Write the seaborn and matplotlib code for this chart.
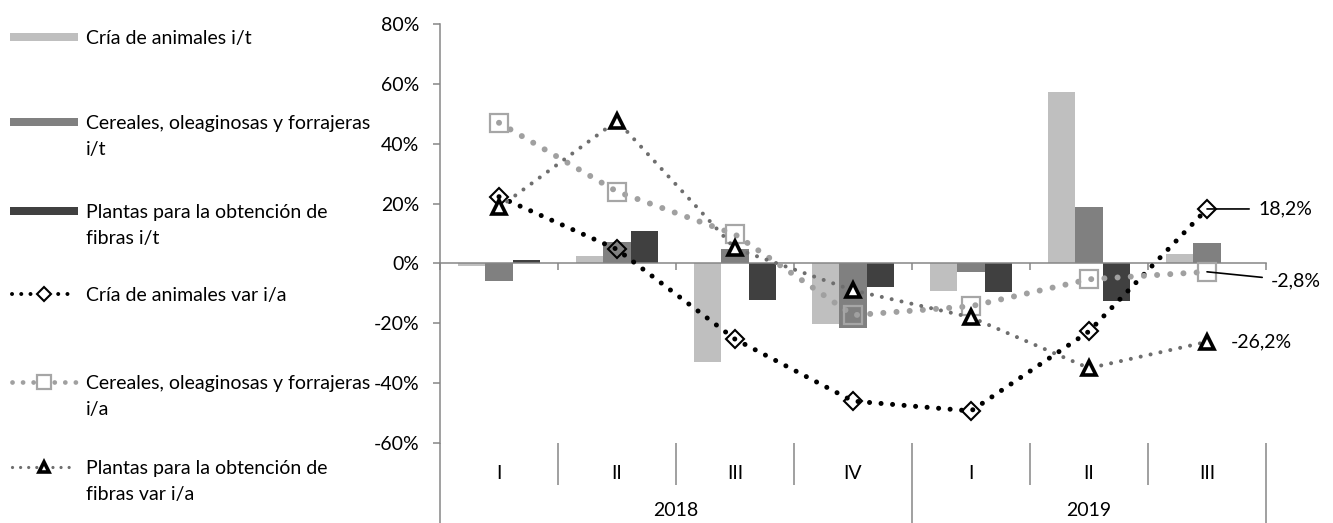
import numpy as np
import pandas as pd
import matplotlib
matplotlib.use("Agg")
import matplotlib.pyplot as plt
from matplotlib.lines import Line2D
from matplotlib.patches import Rectangle
import seaborn as sns

# ---- data ----
periodos = ["2018-I", "2018-II", "2018-III", "2018-IV", "2019-I", "2019-II", "2019-III"]
trimestres = ["I", "II", "III", "IV", "I", "II", "III"]
anios = ["2018", "2019"]

series_it = ["Cría de animales i/t",
             "Cereales, oleaginosas y forrajeras i/t",
             "Plantas para la obtención de fibras i/t"]
cria_it = [-1.0, 2.4, -33.0, -20.3, -9.3, 57.3, 3.0]
cereales_it = [-6.0, 7.0, 4.7, -21.7, -3.0, 19.0, 6.7]
plantas_it = [1.0, 11.0, -12.3, -8.0, -9.5, -12.7, 0.3]

cria_ia = [22.3, 4.7, -25.3, -46.0, -49.3, -22.7, 18.2]
cereales_ia = [47.0, 24.0, 9.7, -17.3, -14.3, -5.3, -2.8]
plantas_ia = [18.7, 47.7, 5.0, -9.0, -18.0, -35.0, -26.2]

yticks = [-60, -40, -20, 0, 20, 40, 60, 80]

bar_colors = ["#bfbfbf", "#808080", "#404040"]
axis_gray = "#868686"

sns.set_theme(style="white")
plt.rcParams["font.family"] = ["Lato", "DejaVu Sans"]
FS = 14

W, H = 1333, 523
fig = plt.figure(figsize=(W / 100, H / 100), dpi=100)
ax = fig.add_axes([440 / W, 1 - 443 / H, (1266 - 440) / W, (443 - 24) / H])

# ---- bars ----
df = pd.DataFrame({
    "periodo": periodos * 3,
    "serie": np.repeat(series_it, len(periodos)),
    "valor": cria_it + cereales_it + plantas_it,
})
sns.barplot(data=df, x="periodo", y="valor", hue="serie", order=periodos,
            hue_order=series_it, palette=bar_colors, saturation=1,
            width=0.69, gap=0, errorbar=None, linewidth=0, legend=False, ax=ax)

# ---- lines ----
xpos = np.arange(len(periodos))
line_specs = [
    dict(y=cria_ia, color="black", lw=3.6, ls=(0, (0.01, 2.3)),
         marker="D", ms=9.5, mfc="none", mec="black", mew=1.5),
    dict(y=cereales_ia, color="#a0a0a0", lw=4.3, ls=(0, (0.01, 2.2)),
         marker="s", ms=13.5, mfc="none", mec="#a6a6a6", mew=1.6),
    dict(y=plantas_ia, color="#6e6e6e", lw=2.9, ls=(0, (0.01, 2.5)),
         marker="^", ms=10, mfc="white", mec="black", mew=2.6),
]
for spec in line_specs:
    sns.lineplot(x=xpos, y=spec["y"], ax=ax, color=spec["color"], linewidth=spec["lw"],
                 linestyle=spec["ls"], dash_capstyle="round", marker=spec["marker"],
                 markersize=spec["ms"], markerfacecolor=spec["mfc"],
                 markeredgecolor=spec["mec"], markeredgewidth=spec["mew"],
                 sort=False, legend=False, zorder=3)

# ---- end labels ----
ax.annotate(f"{cria_ia[-1]:.1f}%".replace(".", ","), xy=(xpos[-1], cria_ia[-1]),
            xytext=(51, 0), textcoords="offset pixels", ha="left", va="center",
            fontsize=FS, color="black",
            arrowprops=dict(arrowstyle="-", color="black", lw=1.2, shrinkA=4, shrinkB=0))
ax.annotate(f"{cereales_ia[-1]:.1f}%".replace(".", ","), xy=(xpos[-1], cereales_ia[-1]),
            xytext=(64, -9), textcoords="offset pixels", ha="left", va="center",
            fontsize=FS, color="black",
            arrowprops=dict(arrowstyle="-", color="black", lw=1.2, shrinkA=4, shrinkB=0))
ax.annotate(f"{plantas_ia[-1]:.1f}%".replace(".", ","), xy=(xpos[-1], plantas_ia[-1]),
            xytext=(24, 0), textcoords="offset pixels", ha="left", va="center",
            fontsize=FS, color="black")

# ---- axes ----
ax.set_xlim(-0.5, len(periodos) - 0.5)
ax.set_ylim(-60, 80)
ax.set_yticks(yticks)
ax.set_yticklabels([f"{v}%" for v in yticks], fontsize=FS, color="black")
ax.set_xlabel("")
ax.set_ylabel("")
ax.grid(False)
for side in ["top", "right"]:
    ax.spines[side].set_visible(False)
ax.spines["left"].set_color(axis_gray)
ax.spines["left"].set_linewidth(1.1)
ax.spines["bottom"].set_position(("data", 0))
ax.spines["bottom"].set_color(axis_gray)
ax.spines["bottom"].set_linewidth(1.1)
boundaries = np.arange(len(periodos) + 1) - 0.5
ax.set_xticks(boundaries)
ax.set_xticklabels([])
ax.tick_params(axis="x", direction="out", length=5, width=1.1, color=axis_gray, bottom=True)
ax.tick_params(axis="y", direction="out", length=5, width=1.1, color=axis_gray, left=True, pad=10)

# category labels under the plot
tr = ax.get_xaxis_transform()
for x, lab in zip(xpos, trimestres):
    ax.text(x, -0.0716, lab, transform=tr, ha="center", va="center", fontsize=FS, color="black")
ax.text(1.5, -0.160, anios[0], transform=tr, ha="center", va="center", fontsize=FS, color="black")
ax.text(5.0, -0.160, anios[1], transform=tr, ha="center", va="center", fontsize=FS, color="black")
for b in boundaries:
    long_sep = b in (-0.5, 3.5, len(periodos) - 0.5)
    ax.plot([b, b], [0, -0.191 if long_sep else -0.1002], transform=tr, color=axis_gray,
            lw=1.1, clip_on=False, solid_capstyle="butt")

# ---- legend ----
def fx(px):
    return px / W


def fy(py):
    return 1 - py / H


LINE_STEP = 26  # px between wrapped legend lines
legend_items = [
    ("bar", bar_colors[0], None, 37, ["Cría de animales i/t"]),
    ("bar", bar_colors[1], None, 122, ["Cereales, oleaginosas y forrajeras", "i/t"]),
    ("bar", bar_colors[2], None, 211, ["Plantas para la obtención de", "fibras i/t"]),
    ("line", None, line_specs[0], 294, ["Cría de animales var i/a"]),
    ("line", None, line_specs[1], 382, ["Cereales, oleaginosas y forrajeras", "i/a"]),
    ("line", None, line_specs[2], 467, ["Plantas para la obtención de", "fibras var i/a"]),
]
for kind, col, spec, py, lines in legend_items:
    if kind == "bar":
        fig.add_artist(Rectangle((fx(10), fy(py + 4)), fx(78) - fx(10), 8 / H,
                                 transform=fig.transFigure, color=col, lw=0))
    else:
        fig.add_artist(Line2D([fx(12), fx(76)], [fy(py), fy(py)], transform=fig.transFigure,
                              color=spec["color"], lw=spec["lw"] * 0.8, linestyle=spec["ls"],
                              dash_capstyle="round"))
        fig.add_artist(Line2D([fx(44)], [fy(py)], transform=fig.transFigure, lw=0,
                              marker=spec["marker"], markersize=spec["ms"] * 0.7,
                              markerfacecolor=spec["mfc"] if spec["mfc"] != "none" else "white",
                              markeredgecolor=spec["mec"], markeredgewidth=spec["mew"]))
    for i, txt in enumerate(lines):
        fig.text(fx(86), fy(py + i * LINE_STEP), txt, ha="left", va="center_baseline",
                 fontsize=FS, color="black")

fig.savefig("out.png", dpi=100)
